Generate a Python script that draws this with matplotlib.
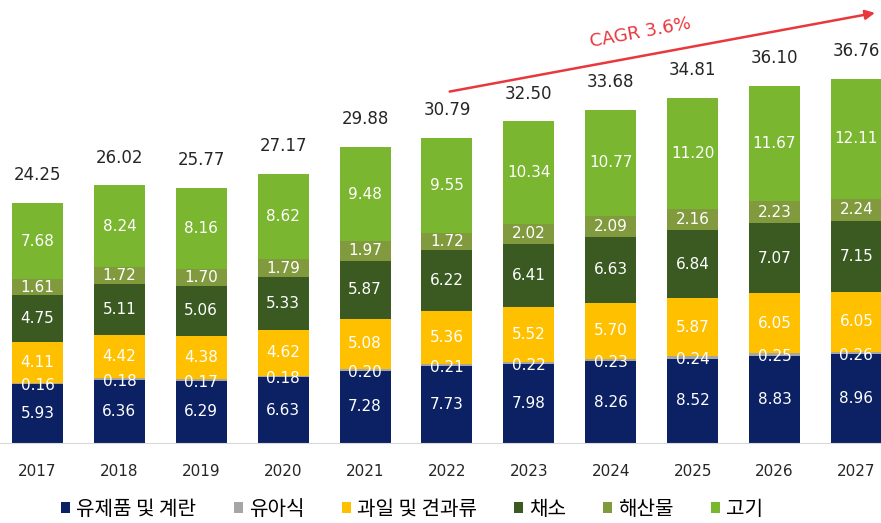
import matplotlib
matplotlib.use("Agg")
import matplotlib.pyplot as plt
from matplotlib.patches import Patch
import numpy as np

plt.rcParams['font.family'] = ['Noto Sans CJK KR', 'DejaVu Sans']
NUM_FONT = ['DejaVu Sans']

years = ['2017', '2018', '2019', '2020', '2021', '2022', '2023', '2024', '2025', '2026', '2027']
series_names = ['유제품 및 계란', '유아식', '과일 및 견과류', '채소', '해산물', '고기']
dairy = [5.93, 6.36, 6.29, 6.63, 7.28, 7.73, 7.98, 8.26, 8.52, 8.83, 8.96]
baby = [0.16, 0.18, 0.17, 0.18, 0.20, 0.21, 0.22, 0.23, 0.24, 0.25, 0.26]
fruit = [4.11, 4.42, 4.38, 4.62, 5.08, 5.36, 5.52, 5.70, 5.87, 6.05, 6.05]
veg = [4.75, 5.11, 5.06, 5.33, 5.87, 6.22, 6.41, 6.63, 6.84, 7.07, 7.15]
seafood = [1.61, 1.72, 1.70, 1.79, 1.97, 1.72, 2.02, 2.09, 2.16, 2.23, 2.24]
meat = [7.68, 8.24, 8.16, 8.62, 9.48, 9.55, 10.34, 10.77, 11.20, 11.67, 12.11]
totals = [24.25, 26.02, 25.77, 27.17, 29.88, 30.79, 32.50, 33.68, 34.81, 36.10, 36.76]
cagr_label = 'CAGR 3.6%'

colors = ['#0B2163', '#A6A6A6', '#FFC000', '#3A5A22', '#819A3D', '#7AB62F']
series = [dairy, baby, fruit, veg, seafood, meat]

fig = plt.figure(figsize=(8.81, 5.23), dpi=100)
ax = fig.add_axes([0, 80/523, 1, 443/523])
x = np.arange(len(years))
width = 0.623
bottom = np.zeros(len(years))
for k, (vals, col) in enumerate(zip(series, colors)):
    vals = np.array(vals)
    ax.bar(x, vals, width, bottom=bottom, color=col, edgecolor='none')
    for xi, b, v in zip(x, bottom, vals):
        yoff = -0.25 if k == 1 else 0
        ax.text(xi, b + v / 2 + yoff, f'{v:.2f}', ha='center', va='center',
                color='white', fontsize=11, family=NUM_FONT)
    bottom += vals

for xi, b, t in zip(x, bottom, totals):
    ax.annotate(f'{t:.2f}', (xi, b), xytext=(0, 20), textcoords='offset points',
                ha='center', va='center', fontsize=12, color='#262626',
                family=NUM_FONT)

ax.set_xlim(-0.458, 10.30)
ax.set_ylim(0, 44.75)
for s in ['top', 'right', 'left']:
    ax.spines[s].set_visible(False)
ax.spines['bottom'].set_color('#D9D9D9')
ax.set_yticks([])
ax.set_xticks(x)
ax.set_xticklabels(years, fontsize=11, color='#262626', family=NUM_FONT)
ax.tick_params(axis='x', length=0, pad=15)

ax.annotate('', xy=(10.26, 43.5), xytext=(5.0, 35.45),
            arrowprops=dict(arrowstyle='-|>', color='#E8383D', lw=1.8,
                            mutation_scale=14), annotation_clip=False)
ax.text(7.36, 41.4, cagr_label, rotation=10.5, ha='center', va='center',
        fontsize=13, color='#E8383D', rotation_mode='anchor', family=NUM_FONT)

handles = [Patch(facecolor=c, edgecolor='none') for c in colors]
fig.legend(handles, series_names, loc='center', bbox_to_anchor=(0.468, 0.026),
           ncol=6, frameon=False, fontsize=14.5, handlelength=0.45, handleheight=0.45,
           handletextpad=0.3, columnspacing=1.85)

fig.savefig('out.png', dpi=100)
